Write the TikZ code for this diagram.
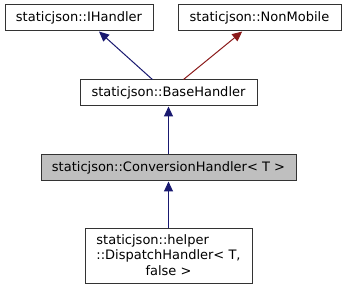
\documentclass[tikz,border=0pt]{standalone}
\usepackage{fontspec}
\setmainfont{DejaVu Sans}
\usetikzlibrary{arrows.meta}
\definecolor{edgeblue}{RGB}{25,25,112}
\definecolor{edgered}{RGB}{139,26,26}
\tikzset{
	classbox/.style={draw=black!80, line width=1pt, fill=white, minimum height=26pt, inner sep=0pt, font=\fontsize{13}{15.5}\selectfont},
	inherit/.style={line width=1pt, color=#1, {Triangle[width=9pt,length=10pt]}-},
}

\begin{document}
\begin{tikzpicture}[x=1pt, y=-1pt]
			%%%%% START %%%%%
			
			\useasboundingbox (0, 0) rectangle (346, 291);
			
			\node[classbox, minimum width=148pt] (ihandler) at (79, 18) {staticjson::IHandler};
			\node[classbox, minimum width=163pt] (nonmobile) at (259.5, 18) {staticjson::NonMobile};
			\node[classbox, minimum width=177pt] (base) at (168.5, 93) {staticjson::BaseHandler};
			\node[classbox, minimum width=255pt, fill=black!25] (conversion) at (168.5, 168) {staticjson::ConversionHandler< T >};
			\node[classbox, minimum width=167pt, minimum height=55pt] (dispatch) at (168.5, 256.5) {\begin{tabular}{@{}l@{}}staticjson::helper\\ ::DispatchHandler< T,\\ \multicolumn{1}{@{}c@{}}{false >}\end{tabular}};
			
			\draw[inherit=edgeblue] (ihandler.-34) -- (base.140);
			\draw[inherit=edgered] (nonmobile.218) -- (base.42);
			\draw[inherit=edgeblue] (base.south) -- (conversion.north);
			\draw[inherit=edgeblue] (conversion.south) -- (dispatch.north);
			
			%%%%% END %%%%%
		\end{tikzpicture}
\end{document}
